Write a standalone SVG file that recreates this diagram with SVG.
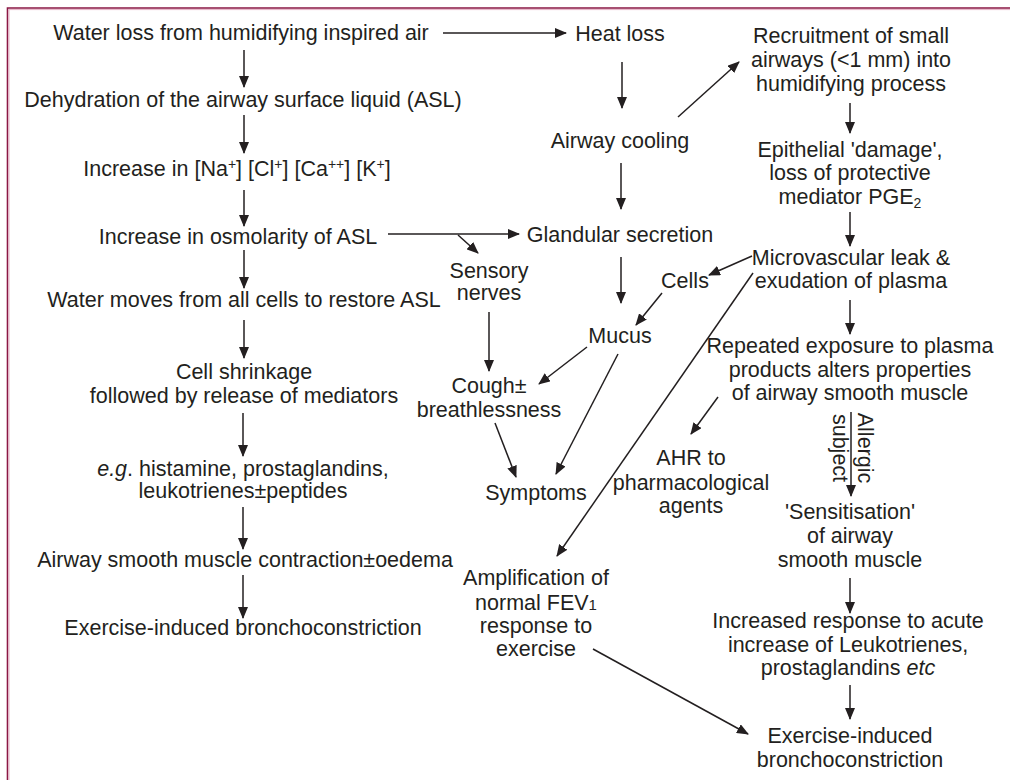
<svg xmlns="http://www.w3.org/2000/svg" width="1010" height="780" viewBox="0 0 1010 780">
<style>
text{font-family:"Liberation Sans",Arial,sans-serif;font-size:21.5px;fill:#231f20;text-anchor:middle}
.c line,.c path{stroke:#231f20;stroke-width:1.5;fill:none;marker-end:url(#ah)}
.sm{font-size:14px}
.it{font-style:italic}
</style>
<defs>
<marker id="ah" viewBox="0 0 12 10" markerUnits="userSpaceOnUse" markerWidth="12" markerHeight="10" refX="11" refY="5" orient="auto" preserveAspectRatio="none">
<path d="M0,0 L12,5 L0,10 z" fill="#231f20"/>
</marker>
</defs>
<rect width="1010" height="780" fill="#ffffff"/>
<g id="frame">
<path d="M7.5,780 V8 H1010" fill="none" stroke="#8b1744" stroke-width="1.6"/>
<path d="M9,780 V9.6 H1010" fill="none" stroke="#e6b3c6" stroke-width="1"/>
</g>
<g id="n_water"><text x="241" y="40">Water loss from humidifying inspired air</text></g>
<g id="n_dehyd"><text x="243" y="107">Dehydration of the airway surface liquid (ASL)</text></g>
<g id="n_ions"><text x="237" y="176">Increase in [Na<tspan class="sm" dy="-7">+</tspan><tspan dy="7">] [Cl</tspan><tspan class="sm" dy="-7">+</tspan><tspan dy="7">] [Ca</tspan><tspan class="sm" dy="-7">++</tspan><tspan dy="7">] [K</tspan><tspan class="sm" dy="-7">+</tspan><tspan dy="7">]</tspan></text></g>
<g id="n_osm"><text x="238" y="244">Increase in osmolarity of ASL</text></g>
<g id="n_moves"><text x="244" y="307">Water moves from all cells to restore ASL</text></g>
<g id="n_shrink"><text x="244" y="379">Cell shrinkage</text><text x="244" y="403">followed by release of mediators</text></g>
<g id="n_eg"><text x="243" y="476"><tspan class="it">e.g</tspan>. histamine, prostaglandins,</text><text x="243" y="498">leukotrienes±peptides</text></g>
<g id="n_asm"><text x="245" y="567">Airway smooth muscle contraction±oedema</text></g>
<g id="n_eib1"><text x="243" y="635">Exercise-induced bronchoconstriction</text></g>
<g id="n_heat"><text x="620" y="41">Heat loss</text></g>
<g id="n_cool"><text x="620" y="148">Airway cooling</text></g>
<g id="n_gland"><text x="620" y="242">Glandular secretion</text></g>
<g id="n_sens"><text x="489" y="278">Sensory</text><text x="489" y="300">nerves</text></g>
<g id="n_cough"><text x="489" y="393">Cough±</text><text x="489" y="417">breathlessness</text></g>
<g id="n_cells"><text x="685" y="288">Cells</text></g>
<g id="n_mucus"><text x="620" y="343">Mucus</text></g>
<g id="n_sympt"><text x="536" y="500">Symptoms</text></g>
<g id="n_ampl"><text x="536" y="585">Amplification of</text><text x="536" y="610">normal FEV<tspan font-size="15">1</tspan></text><text x="536" y="633">response to</text><text x="536" y="656">exercise</text></g>
<g id="n_recr"><text x="851" y="43">Recruitment of small</text><text x="851" y="67">airways (&lt;1 mm) into</text><text x="851" y="91">humidifying process</text></g>
<g id="n_epi"><text x="850" y="157">Epithelial 'damage',</text><text x="850" y="180">loss of protective</text><text x="850" y="204">mediator PGE<tspan class="sm" dy="4">2</tspan></text></g>
<g id="n_micro"><text x="851" y="265">Microvascular leak &amp;</text><text x="851" y="288">exudation of plasma</text></g>
<g id="n_rep"><text x="850" y="353">Repeated exposure to plasma</text><text x="850" y="377">products alters properties</text><text x="850" y="400">of airway smooth muscle</text></g>
<g id="n_ahr"><text x="691" y="465">AHR to</text><text x="691" y="490">pharmacological</text><text x="691" y="513">agents</text></g>
<g id="n_sensit"><text x="850" y="519">'Sensitisation'</text><text x="850" y="543">of airway</text><text x="850" y="567">smooth muscle</text></g>
<g id="n_incr"><text x="848" y="628">Increased response to acute</text><text x="848" y="652">increase of Leukotrienes,</text><text x="848" y="675">prostaglandins <tspan class="it">etc</tspan></text></g>
<g id="n_eib2"><text x="850" y="743">Exercise-induced</text><text x="850" y="767">bronchoconstriction</text></g>
<g id="connectors" class="c">
<line x1="244" y1="50" x2="244" y2="87"/>
<line x1="244" y1="115" x2="244" y2="153"/>
<line x1="244" y1="190" x2="244" y2="226"/>
<line x1="244" y1="250" x2="244" y2="288"/>
<line x1="244" y1="320" x2="244" y2="358"/>
<line x1="243" y1="413" x2="243" y2="456"/>
<line x1="243" y1="507" x2="243" y2="549"/>
<line x1="243" y1="575" x2="243" y2="618"/>
<line x1="443" y1="33" x2="566" y2="33"/>
<line x1="622" y1="62" x2="622" y2="108"/>
<line x1="678" y1="117" x2="739" y2="62"/>
<line x1="621" y1="163" x2="621" y2="209"/>
<line x1="388" y1="234" x2="519" y2="234"/>
<line x1="458" y1="235" x2="478" y2="253"/>
<line x1="489" y1="312" x2="489" y2="371"/>
<line x1="621" y1="257" x2="621" y2="303"/>
<line x1="587" y1="347" x2="539" y2="384"/>
<line x1="495" y1="423" x2="516" y2="477"/>
<line x1="618" y1="354" x2="556" y2="474"/>
<line x1="752" y1="256" x2="709" y2="275"/>
<line x1="662" y1="293" x2="636" y2="325"/>
<line x1="753" y1="273" x2="557" y2="556"/>
<line x1="850" y1="103" x2="850" y2="133"/>
<line x1="850" y1="212" x2="850" y2="246"/>
<line x1="850" y1="300" x2="850" y2="334"/>
<line x1="718" y1="397" x2="691" y2="434"/>
<line x1="851" y1="412" x2="851" y2="496"/>
<line x1="850" y1="578" x2="850" y2="613"/>
<line x1="850" y1="685" x2="850" y2="719"/>
<line x1="593" y1="649" x2="748" y2="734"/>
</g>
<g id="allergic_label">
<text transform="translate(858,448) rotate(90)" x="0" y="0">Allergic</text>
<text transform="translate(833,448) rotate(90)" x="0" y="0">subject</text>
</g>
</svg>
